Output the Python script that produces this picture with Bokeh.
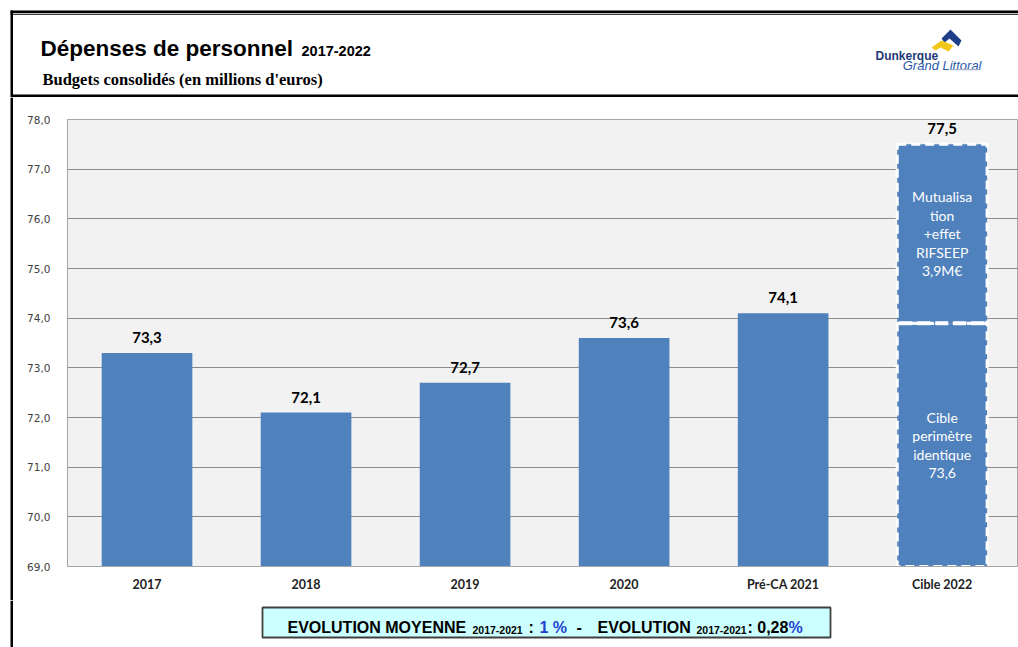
from bokeh.plotting import figure
from bokeh.models import Range1d, FixedTicker, ColumnDataSource
from bokeh.layouts import column, row
from bokeh.core.properties import value
from bokeh.embed import file_html
from bokeh.resources import INLINE

# ---------------- data ----------------
categories = ["2017", "2018", "2019", "2020", "Pré-CA 2021", "Cible 2022"]
values = [73.3, 72.1, 72.7, 73.6, 74.1]
value_labels = ["73,3", "72,1", "72,7", "73,6", "74,1"]
cible_base = 73.9          # drawn height of the lower (same perimeter) segment
cible_total = 77.5
cible_total_label = "77,5"
cible_lower_text = ["Cible", "perimètre", "identique", "73,6"]
cible_upper_text = ["Mutualisa", "tion", "+effet", "RIFSEEP", "3,9M€"]
y_ticks = [69, 70, 71, 72, 73, 74, 75, 76, 77, 78]
y_min, y_max = 69, 78

title_text = "Dépenses de personnel"
title_sub = "2017-2022"
subtitle_text = "Budgets consolidés (en millions d'euros)"
evo_parts = [("EVOLUTION MOYENNE", "main", "black"), ("2017-2021", "sub", "black"),
             (":", "main", "black"), ("1 %", "main", "#1f3fd0"), ("-", "main", "black"),
             ("EVOLUTION", "main", "black"), ("2017-2021", "sub", "black"),
             (": 0,28", "main", "black"), ("%", "main", "#1f3fd0")]
evo_x = [287, 472, 528, 539, 576, 597, 696, 747, 788]

BLUE = "#4f81bd"
PAGE_W = 1018
HEAD_H, CHART_H, FOOT_H = 97, 503, 47
STRIP_W = 13


def blank(w, h, y0):
    f = figure(width=w, height=h, output_backend="svg", toolbar_location=None,
               x_range=Range1d(0, w), y_range=Range1d(y0 + h, y0),
               x_axis_type=None, y_axis_type=None, min_border=0,
               background_fill_color="white", border_fill_color="white",
               outline_line_color=None, frame_align=False)
    f.grid.visible = False
    return f


def txt(f, x, y, s, size, color="black", font="Liberation Sans", style="bold",
        align="left"):
    f.text(x=[x], y=[y], text=[s], text_font=value(font), text_font_size=f"{size}px",
           text_font_style=style, text_color=color, text_align=align,
           text_baseline="alphabetic")


def box(f, x0, y0, x1, y1, fill, line=None, lw=1):
    f.quad(left=[x0], right=[x1], top=[y0], bottom=[y1], fill_color=fill,
           line_color=line, line_width=lw)


# ---------------- header ----------------
head = blank(PAGE_W, HEAD_H, 0)
box(head, 10, 10, PAGE_W, 12.5, "black")
box(head, 10, 13.2, PAGE_W, 14.2, "black")
box(head, 10, 10, 12.5, HEAD_H, "black")
box(head, 12, 94, PAGE_W, 96.5, "black")
txt(head, 40, 48, title_text, 22.5)
txt(head, 301, 50, title_sub, 14.5)
txt(head, 42, 79, subtitle_text, 16.5, font="Liberation Serif")
# logo
head.patch(x=[941, 950, 961, 958, 949, 944], y=[38, 29, 40, 46, 38, 42],
           fill_color="#1f3f8a", line_color=None)
head.patch(x=[931, 941, 953, 948, 940, 935], y=[47, 40, 45, 51, 47, 50],
           fill_color="#f3c61a", line_color=None)
txt(head, 875, 55, "Dunkerque", 12, color="#1f3a78")
txt(head, 981, 65, "Grand Littoral", 13, color="#2b5aa8", style="italic", align="right")
box(head, 950, 68.5, 979, 69.8, "#a8b2cc")

# ---------------- left strip ----------------
strip = blank(STRIP_W, CHART_H, HEAD_H)
box(strip, 10, HEAD_H, 12.5, HEAD_H + CHART_H, "black")

# ---------------- chart ----------------
p = figure(width=PAGE_W - STRIP_W, height=CHART_H, output_backend="svg",
           toolbar_location=None, frame_align=False,
           x_range=Range1d(0, 5.98), y_range=Range1d(y_min, y_max),
           min_border_left=67 - STRIP_W, min_border_top=119 - HEAD_H,
           min_border_bottom=HEAD_H + CHART_H - 566, min_border_right=0,
           background_fill_color="#f2f2f2", border_fill_color="white",
           outline_line_color="#a6a6a6")
p.grid.grid_line_color = None
p.ygrid.grid_line_color = "#8c8c8c"
p.ygrid.grid_line_width = 1

p.xaxis.ticker = FixedTicker(ticks=[i + 0.5 for i in range(len(categories))])
p.xaxis.major_label_overrides = {i + 0.5: c for i, c in enumerate(categories)}
p.yaxis.ticker = FixedTicker(ticks=y_ticks)
p.yaxis.major_label_overrides = {t: f"{t},0" for t in y_ticks}
for ax in (p.xaxis[0], p.yaxis[0]):
    ax.major_tick_line_color = None
    ax.minor_tick_line_color = None
    ax.axis_line_color = "#a6a6a6"
p.xaxis.major_label_text_font = "Lato"
p.xaxis.major_label_text_font_style = "bold"
p.xaxis.major_label_text_font_size = "12.5px"
p.xaxis.major_label_text_color = "#222222"
p.xaxis.major_label_standoff = 4
p.yaxis.major_label_text_font = "DejaVu Sans"
p.yaxis.major_label_text_font_size = "10.5px"
p.yaxis.major_label_text_color = "#404040"
p.yaxis.major_label_standoff = 11

xs = [i + 0.5 for i in range(len(values))]
src = ColumnDataSource(dict(x=xs, top=values, lab=value_labels))
p.vbar(x="x", top="top", bottom=y_min, width=0.57, source=src,
       fill_color=BLUE, line_color=None)
p.text(x="x", y="top", text="lab", source=src, text_align="center",
       text_baseline="bottom", y_offset=-10, text_font=value("Lato"),
       text_font_style="bold", text_font_size="15px", text_color="black")

cx = len(values) + 0.5
p.vbar(x=[cx], top=[cible_base], bottom=[y_min], width=0.565,
       fill_color=BLUE, line_color="white", line_width=3, line_dash="9 5")
p.vbar(x=[cx], top=[cible_total], bottom=[cible_base], width=0.565,
       fill_color=BLUE, line_color="white", line_width=3, line_dash="9 5")
p.segment(x0=[cx - 0.27], x1=[cx + 0.27], y0=[cible_base], y1=[cible_base],
          line_color="white", line_width=4, line_dash="13 5")
p.text(x=[cx], y=[cible_total], text=[cible_total_label], text_align="center",
       text_baseline="bottom", y_offset=-10, text_font=value("Lato"),
       text_font_style="bold", text_font_size="15px", text_color="black")

lh = 18.5
for seg_mid, lines in (((cible_base + cible_total) / 2, cible_upper_text),
                       ((y_min + cible_base) / 2, cible_lower_text)):
    n = len(lines)
    p.text(x=[cx] * n, y=[seg_mid] * n, text=lines,
           y_offset=[(i - (n - 1) / 2) * lh for i in range(n)],
           text_align="center", text_baseline="middle", text_font=value("Lato"),
           text_font_size="14px", text_color="white")

# ---------------- footer ----------------
FOOT_Y0 = HEAD_H + CHART_H
foot = blank(PAGE_W, FOOT_H, FOOT_Y0)
box(foot, 10, FOOT_Y0, 12.5, FOOT_Y0 + FOOT_H, "black")
box(foot, 262, 607, 830, 637, "#ccffff", line="#404040", lw=1.8)
for (s, kind, col), x in zip(evo_parts, evo_x):
    if kind == "main":
        txt(foot, x, 626.5, s, 16, color=col)
    else:
        txt(foot, x, 629, s, 10.5, color=col)

layout = column(head, row(strip, p), foot)
open("out.html", "w").write(file_html(layout, INLINE))
